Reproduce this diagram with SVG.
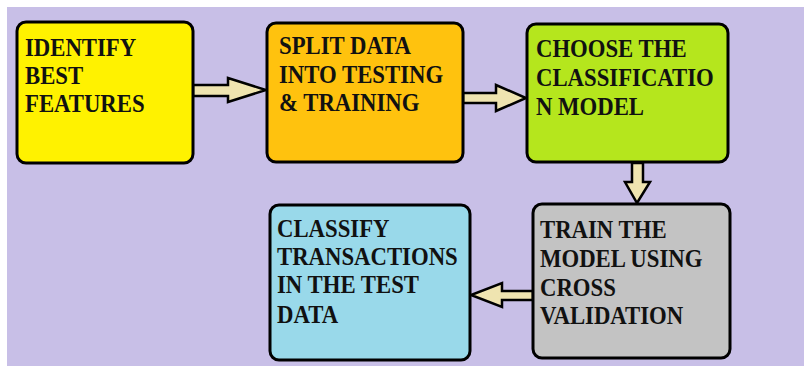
<svg xmlns="http://www.w3.org/2000/svg" width="804" height="366" viewBox="0 0 804 366">
  <style>
    .box { stroke: #000; stroke-width: 3; }
    .lbl { font-family: "Liberation Serif", "Times New Roman", serif; font-weight: bold; font-size: 25px; fill: #111; }
    .arrow { fill: #EFE4B0; stroke: #000; stroke-width: 2.5; stroke-linejoin: miter; }
  </style>
  <rect x="0" y="0" width="804" height="366" fill="#ffffff"/>
  <rect x="7" y="7" width="797" height="359" fill="#C8BFE7"/>

  <g id="connectors">
    <!-- features -> split -->
    <polygon class="arrow" points="193,85 228,85 228,78 266,90 228,102 228,96 193,96"/>
    <!-- split -> choose model -->
    <polygon class="arrow" points="463,93 496,93 496,85 526,98 496,111 496,103 463,103"/>
    <!-- choose model -> train -->
    <polygon class="arrow" points="632,163 643,163 643,182 650,182 637,203 625,182 632,182"/>
    <!-- train -> classify -->
    <polygon class="arrow" points="533,291 502,291 502,283 471,295 502,307 502,300 533,300"/>
  </g>

  <!-- labels are narrowed horizontally (scale 0.91 about their left edge) -->
  <g id="identify-features">
    <rect class="box" x="17" y="22" width="176" height="141" rx="9" fill="#FFF200"/>
    <g transform="matrix(0.91,0,0,1,2.25,0)">
      <text class="lbl" x="25" y="56">IDENTIFY</text>
      <text class="lbl" x="25" y="84">BEST</text>
      <text class="lbl" x="25" y="112">FEATURES</text>
    </g>
  </g>

  <g id="split-data">
    <rect class="box" x="267" y="23" width="196" height="139" rx="9" fill="#FFC20E"/>
    <g transform="matrix(0.91,0,0,1,25.11,0)">
      <text class="lbl" x="279" y="54">SPLIT DATA</text>
      <text class="lbl" x="279" y="83">INTO TESTING</text>
      <text class="lbl" x="279" y="111">&amp; TRAINING</text>
    </g>
  </g>

  <g id="choose-model">
    <rect class="box" x="527" y="24" width="201" height="138" rx="9" fill="#B5E61D"/>
    <g transform="matrix(0.91,0,0,1,48.24,0)">
      <text class="lbl" x="536" y="57">CHOOSE THE</text>
      <text class="lbl" x="536" y="86">CLASSIFICATIO</text>
      <text class="lbl" x="536" y="115">N MODEL</text>
    </g>
  </g>

  <g id="train-model">
    <rect class="box" x="533" y="204" width="197" height="154" rx="9" fill="#C3C3C3"/>
    <g transform="matrix(0.91,0,0,1,48.6,0)">
      <text class="lbl" x="540" y="238">TRAIN THE</text>
      <text class="lbl" x="540" y="267">MODEL USING</text>
      <text class="lbl" x="540" y="296">CROSS</text>
      <text class="lbl" x="540" y="324">VALIDATION</text>
    </g>
  </g>

  <g id="classify-transactions">
    <rect class="box" x="270" y="205" width="200" height="155" rx="9" fill="#99D9EA"/>
    <g transform="matrix(0.91,0,0,1,24.93,0)">
      <text class="lbl" x="277" y="237">CLASSIFY</text>
      <text class="lbl" x="277" y="265">TRANSACTIONS</text>
      <text class="lbl" x="277" y="293">IN THE TEST</text>
      <text class="lbl" x="277" y="323">DATA</text>
    </g>
  </g>
</svg>
